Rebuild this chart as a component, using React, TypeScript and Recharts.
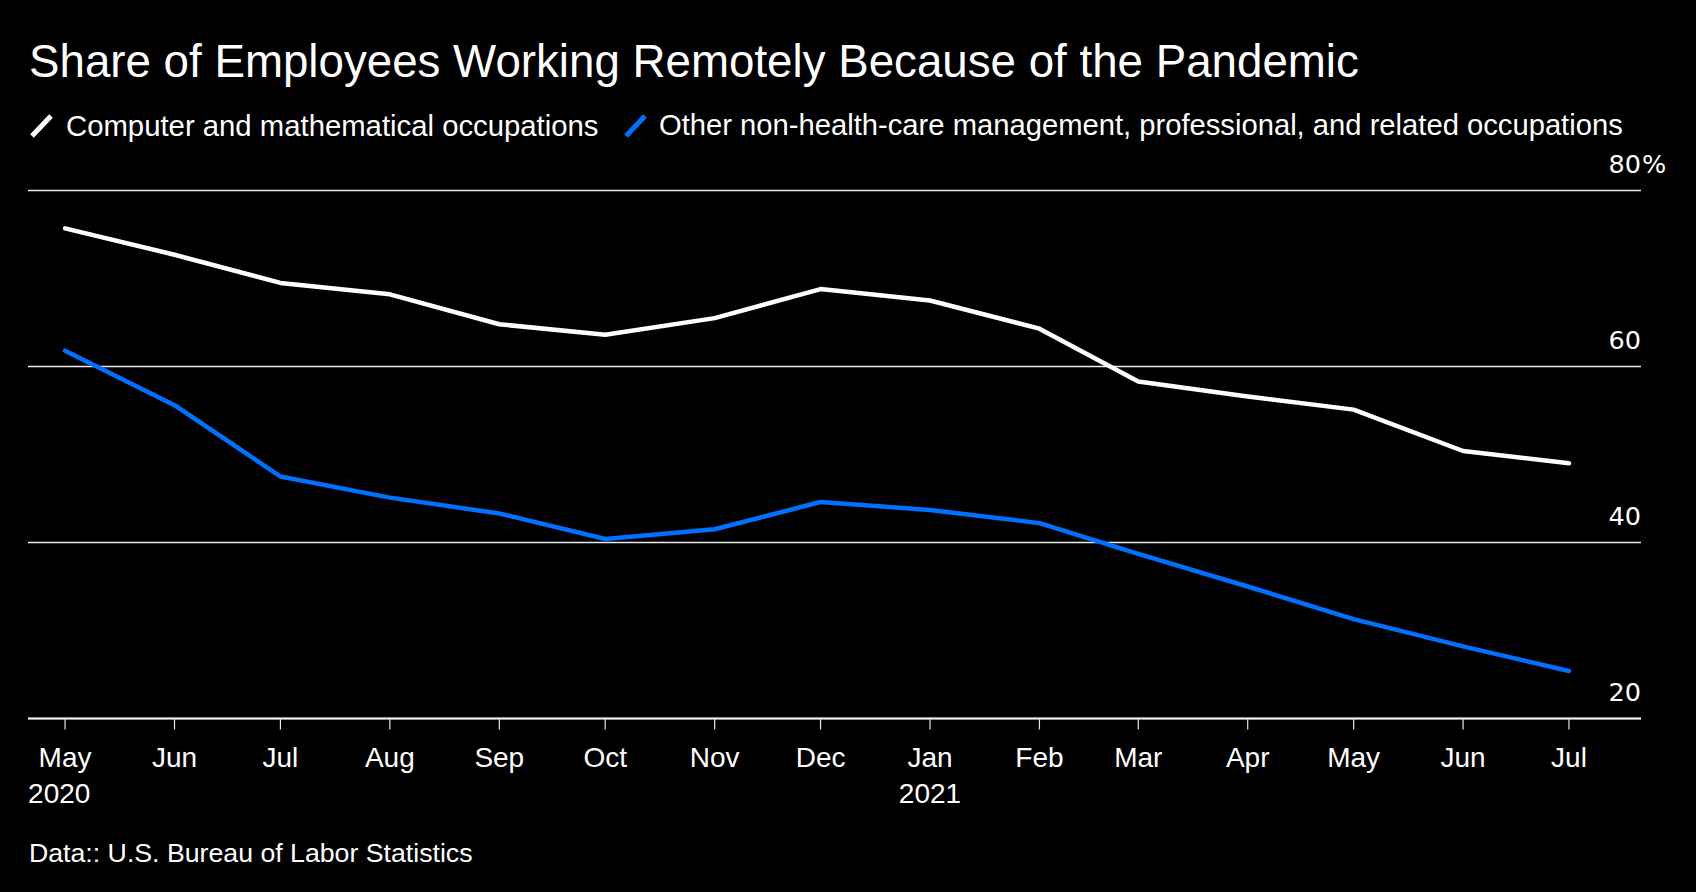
import React from "react";
import { LineChart, Line, XAxis, YAxis, CartesianGrid } from "recharts";

// monthly observations, first of month
const dates = [
  "2020-05-01", "2020-06-01", "2020-07-01", "2020-08-01", "2020-09-01",
  "2020-10-01", "2020-11-01", "2020-12-01", "2021-01-01", "2021-02-01",
  "2021-03-01", "2021-04-01", "2021-05-01", "2021-06-01", "2021-07-01",
];
const monthLabels = ["May", "Jun", "Jul", "Aug", "Sep", "Oct", "Nov", "Dec", "Jan", "Feb", "Mar", "Apr", "May", "Jun", "Jul"];
const yearLabels = ["2020", "", "", "", "", "", "", "", "2021", "", "", "", "", "", ""];

const computerMath = [75.7, 72.7, 69.5, 68.2, 64.8, 63.6, 65.5, 68.8, 67.5, 64.3, 58.3, 56.6, 55.1, 50.4, 49.0];
const otherProf = [61.8, 55.6, 47.5, 45.1, 43.3, 40.4, 41.5, 44.6, 43.7, 42.2, 38.7, 35.0, 31.3, 28.2, 25.4];

const yTicks = [20, 40, 60, 80];

const W = 1696;
const H = 892;
const DAY = 86400000;
const FONT = "'Liberation Sans', Arial, sans-serif";
const NUM_FONT = "'DejaVu Sans', sans-serif";
const BLUE = "#0070ff";

const times = dates.map((d) => Date.parse(d + "T00:00:00Z"));
const data = times.map((t, i) => ({ t, cm: computerMath[i], op: otherProf[i] }));
const xDomain = [times[0] - 10.5 * DAY, times[times.length - 1] + 20.4 * DAY];

function MonthTick(props: any) {
  const { x, y, payload } = props;
  const i = times.indexOf(payload.value);
  const year = yearLabels[i];
  return (
    <g>
      <text x={x} y={y + 37} textAnchor="middle" fill="#fff" fontSize={28} fontFamily={FONT}>
        {monthLabels[i]}
      </text>
      {year && (
        <text
          x={i === 0 ? x - 37 : x}
          y={y + 73}
          textAnchor={i === 0 ? "start" : "middle"}
          fill="#fff"
          fontSize={28}
          fontFamily={FONT}
        >
          {year}
        </text>
      )}
    </g>
  );
}

function ValueTick(props: any) {
  const { x, y, payload } = props;
  return (
    <g>
      <text x={x} y={y - 18} textAnchor="end" fill="#fff" fontSize={25.5} fontFamily={NUM_FONT}>
        {payload.value}
      </text>
      {payload.value === 80 && (
        <text x={x + 1} y={y - 18} textAnchor="start" fill="#fff" fontSize={25.5} fontFamily={NUM_FONT}>
          %
        </text>
      )}
    </g>
  );
}

const Marker = ({ color, left }: { color: string; left: number }) => (
  <svg width={26} height={26} style={{ position: "absolute", left, top: 113 }}>
    <line x1={3} y1={23} x2={22} y2={3} stroke={color} strokeWidth={5} />
  </svg>
);

export default function App() {
  const txt = { position: "absolute" as const, color: "#fff", fontFamily: FONT, whiteSpace: "nowrap" as const };
  return (
    <div style={{ position: "absolute", left: 0, top: 0, width: W, height: H, background: "#000", overflow: "hidden" }}>
      <div style={{ ...txt, left: 29, top: 39, fontSize: 45.7, lineHeight: "45.7px" }}>
        Share of Employees Working Remotely Because of the Pandemic
      </div>

      <Marker color="#fff" left={29} />
      <div style={{ ...txt, left: 66, top: 111, fontSize: 29.3, lineHeight: "29.3px" }}>
        Computer and mathematical occupations
      </div>
      <Marker color={BLUE} left={623} />
      <div style={{ ...txt, left: 659, top: 111, fontSize: 29.2, lineHeight: "29.2px" }}>
        Other non-health-care management, professional, and related occupations
      </div>

      <div style={{ ...txt, left: 29, top: 839.5, fontSize: 26.7, lineHeight: "26.7px" }}>
        Data:: U.S. Bureau of Labor Statistics
      </div>

      <div style={{ position: "absolute", left: 0, top: 0 }}>
        <LineChart width={W} height={H} data={data} margin={{ top: 190.5, right: 0, bottom: 113.5, left: 28 }}>
          <CartesianGrid horizontal vertical={false} stroke="#ececec" strokeWidth={1.3} />
          <XAxis
            dataKey="t"
            type="number"
            scale="time"
            domain={xDomain}
            ticks={times}
            interval={0}
            height={60}
            tickSize={11}
            tickMargin={0}
            axisLine={{ stroke: "#f0f0f0", strokeWidth: 2 }}
            tickLine={{ stroke: "#e6e6e6", strokeWidth: 1.2 }}
            tick={<MonthTick />}
            allowDataOverflow
          />
          <YAxis
            orientation="right"
            type="number"
            domain={[20, 80]}
            ticks={yTicks}
            width={55}
            tickSize={0}
            tickMargin={0}
            axisLine={false}
            tickLine={false}
            tick={<ValueTick />}
            allowDataOverflow
          />
          <Line
            dataKey="op"
            type="linear"
            stroke={BLUE}
            strokeWidth={4.5}
            dot={false}
            strokeLinecap="round"
            strokeLinejoin="round"
            isAnimationActive={false}
          />
          <Line
            dataKey="cm"
            type="linear"
            stroke="#fff"
            strokeWidth={4.5}
            dot={false}
            strokeLinecap="round"
            strokeLinejoin="round"
            isAnimationActive={false}
          />
        </LineChart>
      </div>
    </div>
  );
}
